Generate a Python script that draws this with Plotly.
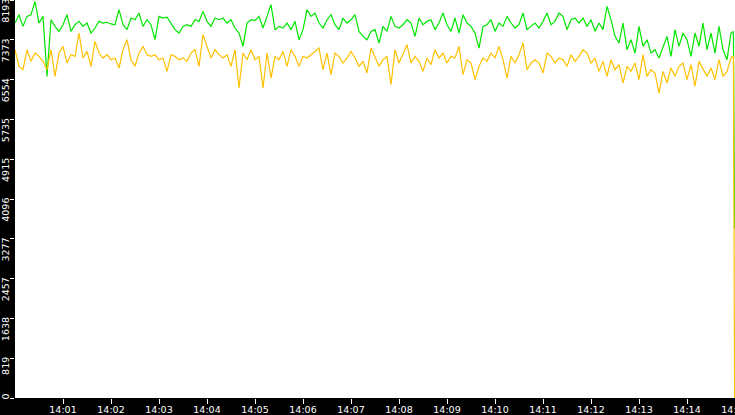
import pandas as pd
import plotly.graph_objects as go

# sample times: every 5 s from 14:00:00, then the last two samples before 14:15
base = pd.Timestamp("2024-01-01 14:00:00")
times = list(pd.date_range(base, periods=180, freq="5s"))
times += [pd.Timestamp("2024-01-01 14:14:58"), pd.Timestamp("2024-01-01 14:14:59.5")]

green_values = [
    7719, 7890, 7650, 7856, 7890, 8165, 7719, 7856, 6621, 7787,
    7650, 7547, 7684, 7890, 7547, 7684, 7753, 7650, 7719, 7513,
    7616, 7753, 7719, 7735, 7700, 7684, 7993, 7684, 7582, 7822,
    7787, 7925, 7650, 7787, 7684, 7376, 7856, 7822, 7840, 7719,
    7582, 7513, 7650, 7684, 7650, 7787, 7753, 7959, 7753, 7650,
    7822, 7787, 7822, 7719, 7787, 7616, 7513, 7239, 7719, 7787,
    7770, 7856, 7616, 7856, 8096, 7582, 7650, 7616, 7719, 7582,
    7753, 7376, 7582, 7993, 7856, 7925, 7719, 7616, 7787, 7890,
    7684, 7582, 7822, 7719, 7787, 7890, 7547, 7444, 7376, 7547,
    7582, 7307, 7650, 7547, 7856, 7650, 7616, 7684, 7787, 7719,
    7444, 7822, 7684, 7753, 7787, 7582, 7719, 7925, 7684, 7547,
    7822, 7513, 7890, 7719, 7650, 7513, 7204, 7650, 7684, 7787,
    7547, 7719, 7650, 7856, 7719, 7616, 7684, 7925, 7582, 7650,
    7719, 7616, 7753, 7925, 7684, 7753, 7925, 7856, 7582, 7787,
    7822, 7719, 7822, 7650, 7787, 7547, 7719, 7582, 8062, 7787,
    7444, 7307, 7719, 7170, 7376, 7101, 7650, 7239, 7376, 7101,
    7170, 6998, 7239, 7444, 7033, 7582, 7239, 7513, 7376, 7033,
    7513, 7239, 7719, 7170, 7513, 7101, 7650, 7170, 6964, 7513,
    7547, 3490,
]

orange_values = [
    7170, 6827, 6758, 7170, 6930, 7101, 7033, 6930, 6758, 7170,
    6621, 7101, 7239, 6896, 7067, 7033, 7513, 6998, 7136, 6827,
    7341, 7101, 6998, 7067, 6964, 6998, 6793, 7170, 7376, 6964,
    6827, 7101, 7239, 7067, 7033, 7067, 6964, 6998, 6724, 7067,
    7033, 6964, 6998, 6930, 7101, 7170, 6827, 7479, 7239, 6998,
    7170, 7067, 6998, 7067, 6827, 7170, 6381, 7101, 6964, 7170,
    6964, 7033, 6381, 7101, 6587, 7033, 6964, 7136, 6827, 7170,
    7033, 6827, 7033, 6998, 7067, 7136, 7204, 6758, 7101, 6655,
    7101, 7033, 6896, 6998, 7136, 6998, 6827, 6930, 6690, 7204,
    6998, 6827, 6964, 7033, 6450, 7170, 6896, 7067, 7273, 6896,
    7033, 6930, 6724, 6998, 6861, 7170, 6998, 7101, 6896, 7033,
    6998, 7239, 6655, 6964, 6896, 6553, 6827, 6998, 6930, 7101,
    6998, 7239, 6964, 6587, 7033, 6896, 7067, 7307, 6758, 6896,
    6964, 6896, 6690, 7101, 7033, 6896, 6998, 6964, 6827, 7067,
    6930, 7033, 7170, 7101, 6896, 6998, 6724, 6930, 6621, 6964,
    6758, 6861, 6484, 6827, 6724, 6896, 6553, 7067, 6621, 6758,
    6690, 6278, 6724, 6484, 6793, 6621, 6827, 6896, 6553, 6861,
    6415, 6930, 6758, 6621, 6793, 6553, 6964, 6621, 6724, 6998,
    7033, 0,
]

y_tick_values = [0, 819.3, 1638.6, 2457.9, 3277.2, 4096.5, 4915.8, 5735.1, 6554.4, 7373.7, 8193]
y_tick_labels = ["0", "819", "1638", "2457", "3277", "4096", "4915", "5735", "6554", "7373", "8193"]

x_tick_values = [pd.Timestamp("2024-01-01 14:%02d:00" % m) for m in range(1, 16)]
x_tick_labels = ["14:%02d" % m for m in range(1, 16)]

NB = "\u00a0"
y_tick_text = [lab if lab == "0" else lab + NB * (2 * len(lab)) for lab in y_tick_labels]

fig = go.Figure()
fig.add_trace(go.Scatter(x=times, y=green_values, mode="lines",
                         line=dict(color="#00e600", width=1.2), hoverinfo="skip"))
fig.add_trace(go.Scatter(x=times, y=orange_values, mode="lines",
                         line=dict(color="#ffc000", width=1.2), hoverinfo="skip"))

font = dict(family="DejaVu Sans", size=9.5, color="white")

fig.update_layout(
    width=735, height=415, autosize=False,
    paper_bgcolor="black", plot_bgcolor="white",
    margin=dict(l=15, r=0, t=0, b=17, pad=0),
    showlegend=False,
    font=font,
    xaxis=dict(
        type="date",
        range=[pd.Timestamp("2024-01-01 14:00:00"), pd.Timestamp("2024-01-01 14:15:00")],
        tickvals=x_tick_values, ticktext=x_tick_labels,
        ticks="outside", ticklen=5, tickwidth=1, tickcolor="white",
        tickfont=font, showgrid=False, zeroline=False, showline=False,
        ticklabeloverflow="allow", ticklabelstandoff=-2,
        automargin=False, fixedrange=True,
    ),
    yaxis=dict(
        range=[0, 8193],
        tickvals=y_tick_values, ticktext=y_tick_text, tickangle=-90,
        ticks="outside", ticklen=4, tickwidth=1, tickcolor="white",
        tickfont=font, showgrid=False, zeroline=False, showline=False,
        ticklabeloverflow="allow", ticklabelstandoff=-3,
        automargin=False, fixedrange=True,
    ),
)

fig.write_html(
    "out.html",
    config={"displayModeBar": False, "staticPlot": True},
    post_script="document.body.style.margin='0';document.body.style.overflow='hidden';",
)
